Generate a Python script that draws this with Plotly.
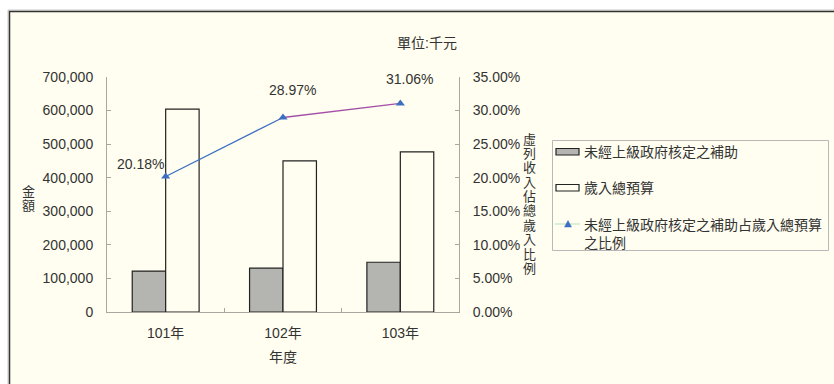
import plotly.graph_objects as go

# ---- data ----
categories = ["101年", "102年", "103年"]
subsidy = [122000, 130400, 148200]          # 未經上級政府核定之補助
budget = [604500, 450100, 477100]           # 歲入總預算
ratio = [0.2018, 0.2897, 0.3106]            # 比例
ratio_labels = ["20.18%", "28.97%", "31.06%"]

name_sub = "未經上級政府核定之補助"
name_bud = "歲入總預算"
name_ratio = "未經上級政府核定之補助占歲入總預算<br>之比例"
title_text = "單位:千元"
xtitle = "年度"
ytitle_left = "金額"
ytitle_right = "虛列收入佔總歲入比例"

# ---- layout geometry (pixels) ----
W, H = 834, 384
L, R, T, B = 107, 459, 77, 312
pw, ph = R - L, B - T

def px_x(x):
    return (x - L) / pw

def px_y(y):
    return (B - y) / ph

FONT = "Liberation Sans, Arial, Noto Sans CJK TC, sans-serif"
TXT = "#333333"
BG = "#FFFEF0"
GRAY = "#B4B5B0"
EDGE = "#222222"
BLUE = "#3C6FC2"
PURPLE = "#A550A8"

fig = go.Figure()

fig.add_trace(go.Bar(
    x=categories, y=subsidy, name=name_sub,
    marker=dict(color=GRAY, line=dict(color=EDGE, width=1.2)),
))
fig.add_trace(go.Bar(
    x=categories, y=budget, name=name_bud,
    marker=dict(color=BG, line=dict(color=EDGE, width=1.2)),
))

# line segments (first blue, second purple)
fig.add_trace(go.Scatter(
    x=categories[0:2], y=ratio[0:2], yaxis="y2", mode="lines",
    line=dict(color=BLUE, width=1.3), hoverinfo="skip",
))
fig.add_trace(go.Scatter(
    x=categories[1:3], y=ratio[1:3], yaxis="y2", mode="lines",
    line=dict(color=PURPLE, width=1.3), hoverinfo="skip",
))
fig.add_trace(go.Scatter(
    x=categories, y=ratio, yaxis="y2", mode="markers", name=name_ratio,
    marker=dict(symbol="triangle-up", size=8, color=BLUE),
))

annotations = []
label_offsets = [(-25, 13), (9, 27), (9.5, 24.5)]
for cat, val, lab, (dx, dy) in zip(categories, ratio, ratio_labels, label_offsets):
    annotations.append(dict(
        x=cat, y=val, xref="x", yref="y2", text=lab, showarrow=False,
        xanchor="center", yanchor="middle",
        xshift=dx, yshift=dy, font=dict(size=14, color=TXT, family=FONT),
    ))

def paper_text(x, y, text, size=14, xanchor="center"):
    return dict(
        x=px_x(x), y=px_y(y), xref="paper", yref="paper", text=text,
        showarrow=False, xanchor=xanchor, yanchor="middle",
        font=dict(size=size, color=TXT, family=FONT),
    )

annotations.append(paper_text(427, 43, title_text))
annotations.append(paper_text(283, 357, xtitle))
for i, ch in enumerate(ytitle_left):
    annotations.append(paper_text(28, 191 + 14 * i, ch, 13))
for i, ch in enumerate(ytitle_right):
    annotations.append(paper_text(529, 139 + 14.4 * i, ch, 13))

# ---- legend (drawn manually to match the reference box) ----
legend_rows = [152, 188, 225]
annotations.append(paper_text(582, legend_rows[0], name_sub, 14, "left"))
annotations.append(paper_text(582, legend_rows[1], name_bud, 14, "left"))
for j, line in enumerate(name_ratio.split("<br>")):
    annotations.append(paper_text(582, legend_rows[2] + 18 * j, line, 14, "left"))

shapes = [
    dict(type="rect", xref="paper", yref="paper", layer="below",
         x0=px_x(8), x1=px_x(W + 20), y0=px_y(10), y1=px_y(H + 20),
         line=dict(color="#C8C8C8", width=1), fillcolor=BG),
    dict(type="rect", xref="paper", yref="paper", layer="below",
         x0=px_x(9.5), x1=px_x(W + 20), y0=px_y(11.5), y1=px_y(H + 20),
         line=dict(color="#333333", width=1.5), fillcolor=BG),
    # legend box
    dict(type="rect", xref="paper", yref="paper",
         x0=px_x(552.5), x1=px_x(828.5), y0=px_y(140.5), y1=px_y(250.5),
         line=dict(color="#B8B8B8", width=1), fillcolor="rgba(0,0,0,0)"),
    # legend symbols
    dict(type="rect", xref="paper", yref="paper",
         x0=px_x(556), x1=px_x(579), y0=px_y(legend_rows[0] - 3.5),
         y1=px_y(legend_rows[0] + 3),
         line=dict(color=EDGE, width=1.2), fillcolor=GRAY),
    dict(type="rect", xref="paper", yref="paper",
         x0=px_x(556), x1=px_x(579), y0=px_y(legend_rows[1] - 3.5),
         y1=px_y(legend_rows[1] + 3),
         line=dict(color=EDGE, width=1.2), fillcolor=BG),
    dict(type="line", xref="paper", yref="paper",
         x0=px_x(555), x1=px_x(580), y0=px_y(legend_rows[2] - 1),
         y1=px_y(legend_rows[2] - 1),
         line=dict(color="#C8E6C0", width=1.3)),
    dict(type="path", xref="paper", yref="paper",
         path="M {:.5f},{:.5f} L {:.5f},{:.5f} L {:.5f},{:.5f} Z".format(
             px_x(564.5), px_y(legend_rows[2] + 2),
             px_x(571.5), px_y(legend_rows[2] + 2),
             px_x(568), px_y(legend_rows[2] - 4.5)),
         line=dict(color=BLUE, width=0.5), fillcolor=BLUE),
]

axis_common = dict(
    showgrid=False, zeroline=False, showline=True, linecolor="#A8A8A0",
    linewidth=1, ticks="inside", ticklen=4, tickcolor="#A8A8A0",
    tickfont=dict(size=14, color=TXT, family=FONT),
)

fig.update_layout(
    width=W, height=H,
    margin=dict(l=L, r=W - R, t=T, b=H - B, autoexpand=False),
    paper_bgcolor="white", plot_bgcolor="rgba(0,0,0,0)",
    barmode="group", bargap=0.43, bargroupgap=0,
    font=dict(family=FONT, size=14, color=TXT),
    xaxis=dict(**axis_common, type="category", tickson="boundaries",
               ticklabelstandoff=8),
    yaxis=dict(**axis_common, range=[0, 700000], dtick=100000,
               tickformat=",d", ticklabelstandoff=10),
    yaxis2=dict(**axis_common, range=[0, 0.35], dtick=0.05,
                tickformat=".2%", overlaying="y", side="right",
                ticklabelstandoff=10),
    annotations=annotations,
    shapes=shapes,
    showlegend=False,
)

fig.write_html("out.html")
